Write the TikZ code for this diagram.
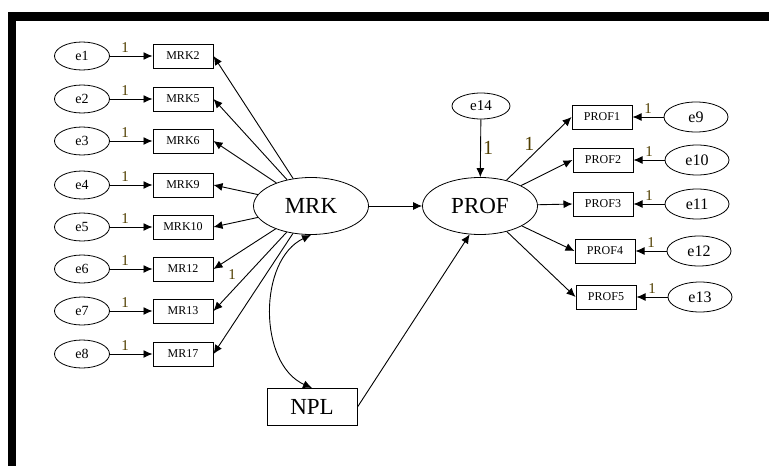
\documentclass[tikz,border=0pt]{standalone}
\usepackage{fontspec}
\setmainfont{Liberation Serif}
\usepackage{tikz}
\usetikzlibrary{shapes.geometric}
\usetikzlibrary{positioning}
\usetikzlibrary{arrows.meta}
\definecolor{onecol}{RGB}{80,62,0}
\tikzset{every picture/.style={line width=0.9pt},
  obs/.style={draw,rectangle,line width=1pt,minimum width=60pt,minimum height=24pt,inner sep=0pt,font=\fontsize{12}{12}\selectfont},
  err/.style={draw,ellipse,line width=0.8pt,minimum width=55pt,minimum height=28pt,inner sep=0pt,font=\fontsize{14}{14}\selectfont},
  errbig/.style={err,minimum width=64pt,minimum height=30pt,font=\fontsize{16}{16}\selectfont},
  lat/.style={draw,ellipse,line width=0.8pt,minimum width=115pt,minimum height=57pt,inner sep=0pt,font=\fontsize{23}{23}\selectfont},
  one/.style={text=onecol,inner sep=1pt,font=\fontsize{15}{15}\selectfont},
  onebig/.style={one,font=\fontsize{20}{20}\selectfont},
  arr/.style={-{Latex[length=9pt,width=8pt]}}}

\begin{document}
\begin{tikzpicture}[x=1pt,y=-1pt]
%[scale=0.7, every node/.style={scale=0.7}]
\useasboundingbox (0,0) rectangle (769,466);
\fill (8,12) rectangle (769,21);
\fill (8,12) rectangle (16,466);

\node (mrk) at (311,206) [lat] {MRK};
\node (prof) at (480,206) [lat] {PROF};
\node (npl) at (312,407) [draw,line width=1pt,minimum width=90pt,minimum height=37pt,font=\fontsize{23}{23}\selectfont] {NPL};
\node (e14) at (481,106) [err,minimum width=58pt,minimum height=26pt,font=\fontsize{15}{15}\selectfont] {e14};

\node (mrk2) at (183,56) [obs] {MRK2};
\node (mrk5) at (183,99) [obs] {MRK5};
\node (mrk6) at (183,141) [obs] {MRK6};
\node (mrk9) at (183,185) [obs] {MRK9};
\node (mrk10) at (183,227) [obs] {MRK10};
\node (mr12) at (183,269) [obs] {MR12};
\node (mr13) at (183,311) [obs] {MR13};
\node (mr17) at (183,354) [obs] {MR17};

\node (e1) [err, left of=mrk2, node distance=101pt] {e1};
\node (e2) [err, left of=mrk5, node distance=101pt] {e2};
\node (e3) [err, left of=mrk6, node distance=101pt] {e3};
\node (e4) [err, left of=mrk9, node distance=101pt] {e4};
\node (e5) [err, left of=mrk10, node distance=101pt] {e5};
\node (e6) [err, left of=mr12, node distance=101pt] {e6};
\node (e7) [err, left of=mr13, node distance=101pt] {e7};
\node (e8) [err, left of=mr17, node distance=101pt] {e8};

\node (prof1) at (602,117) [obs] {PROF1};
\node (prof2) at (603,160) [obs] {PROF2};
\node (prof3) at (603,204) [obs] {PROF3};
\node (prof4) at (605,251) [obs] {PROF4};
\node (prof5) at (606,297) [obs] {PROF5};

\node (e9) [errbig, right of=prof1, node distance=94pt] {e9};
\node (e10) [errbig, right of=prof2, node distance=94pt] {e10};
\node (e11) [errbig, right of=prof3, node distance=94pt] {e11};
\node (e12) [errbig, right of=prof4, node distance=94pt] {e12};
\node (e13) [errbig, right of=prof5, node distance=94pt] {e13};

\draw[arr] (e1) -- (mrk2) node[one,pos=0.36,above=2pt] {1};
\draw[arr] (e2) -- (mrk5) node[one,pos=0.36,above=2pt] {1};
\draw[arr] (e3) -- (mrk6) node[one,pos=0.36,above=2pt] {1};
\draw[arr] (e4) -- (mrk9) node[one,pos=0.36,above=2pt] {1};
\draw[arr] (e5) -- (mrk10) node[one,pos=0.36,above=2pt] {1};
\draw[arr] (e6) -- (mr12) node[one,pos=0.36,above=2pt] {1};
\draw[arr] (e7) -- (mr13) node[one,pos=0.36,above=2pt] {1};
\draw[arr] (e8) -- (mr17) node[one,pos=0.36,above=2pt] {1};

\draw[arr] (mrk) -- (mrk2.east);
\draw[arr] (mrk) -- (mrk5.east);
\draw[arr] (mrk) -- (mrk6.east);
\draw[arr] (mrk) -- (mrk9.east);
\draw[arr] (mrk) -- (mrk10.east);
\draw[arr] (mrk) -- (mr12.east) node[one,pos=0.7,below=11pt] {1};
\draw[arr] (mrk) -- (mr13.east);
\draw[arr] (mrk) -- (mr17.east);

\draw[arr] (e9) -- (prof1) node[one,pos=0.5,above=2pt] {1};
\draw[arr] (e10) -- (prof2) node[one,pos=0.5,above=2pt] {1};
\draw[arr] (e11) -- (prof3) node[one,pos=0.5,above=2pt] {1};
\draw[arr] (e12) -- (prof4) node[one,pos=0.5,above=2pt] {1};
\draw[arr] (e13) -- (prof5) node[one,pos=0.5,above=2pt] {1};

\draw[arr] (prof) -- (prof1.west) node[onebig,pos=0.45,above left] {1};
\draw[arr] (prof) -- (prof2.west);
\draw[arr] (prof) -- (prof3.west);
\draw[arr] (prof) -- (prof4.west);
\draw[arr] (prof) -- (prof5.west);

\draw[arr] (e14) -- (prof) node[onebig,pos=0.5,right=1pt] {1};
\draw[arr] (mrk) -- (prof);
\draw[arr] (npl.east) -- (prof.250);
\draw[{Latex[length=9pt,width=8pt]}-{Latex[length=9pt,width=8pt]}] (npl.north) .. controls (258,364) and (258,260) .. (mrk.south);
\end{tikzpicture}
\end{document}
